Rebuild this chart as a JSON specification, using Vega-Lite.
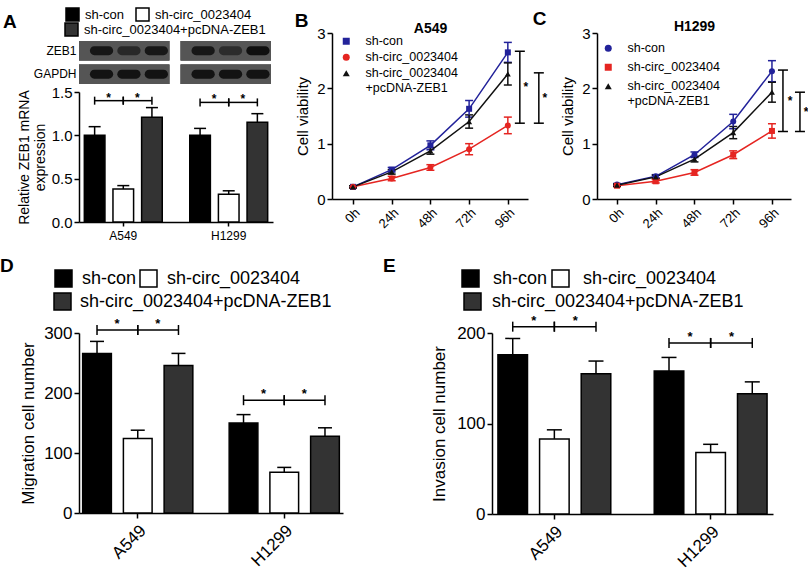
{
  "$schema": "https://vega.github.io/schema/vega-lite/v6.json",
  "background": "white",
  "padding": {"left": 0, "top": 7, "right": 0, "bottom": 0},
  "config": {
    "font": "Liberation Sans",
    "view": {"stroke": null},
    "axis": {"domainColor": "#000", "domainWidth": 1.5, "tickColor": "#000", "tickWidth": 1.5, "tickSize": 5, "labelColor": "#000", "titleColor": "#000", "grid": false, "labelFont": "Liberation Sans", "titleFont": "Liberation Sans", "titleFontWeight": "normal"},
    "legend": {"labelFont": "Liberation Sans", "labelColor": "#000", "titleFont": "Liberation Sans", "titleColor": "#000"},
    "title": {"font": "Liberation Sans", "color": "#000"}
  },
  "datasets": {
    "blot": [
      {"protein": "ZEB1", "cell": "A549", "lane": "sh-con", "intensity": 0.85},
      {"protein": "ZEB1", "cell": "A549", "lane": "sh-circ_0023404", "intensity": 0.6},
      {"protein": "ZEB1", "cell": "A549", "lane": "sh-circ_0023404+pcDNA-ZEB1", "intensity": 0.85},
      {"protein": "ZEB1", "cell": "H1299", "lane": "sh-con", "intensity": 0.85},
      {"protein": "ZEB1", "cell": "H1299", "lane": "sh-circ_0023404", "intensity": 0.55},
      {"protein": "ZEB1", "cell": "H1299", "lane": "sh-circ_0023404+pcDNA-ZEB1", "intensity": 0.95},
      {"protein": "GAPDH", "cell": "A549", "lane": "sh-con", "intensity": 0.9},
      {"protein": "GAPDH", "cell": "A549", "lane": "sh-circ_0023404", "intensity": 0.9},
      {"protein": "GAPDH", "cell": "A549", "lane": "sh-circ_0023404+pcDNA-ZEB1", "intensity": 0.9},
      {"protein": "GAPDH", "cell": "H1299", "lane": "sh-con", "intensity": 0.9},
      {"protein": "GAPDH", "cell": "H1299", "lane": "sh-circ_0023404", "intensity": 0.9},
      {"protein": "GAPDH", "cell": "H1299", "lane": "sh-circ_0023404+pcDNA-ZEB1", "intensity": 0.9}
    ],
    "barA": [
      {"cell": "A549", "group": "sh-con", "mean": 1.0, "upper": 1.1},
      {"cell": "A549", "group": "sh-circ_0023404", "mean": 0.38, "upper": 0.42},
      {"cell": "A549", "group": "sh-circ_0023404+pcDNA-ZEB1", "mean": 1.21, "upper": 1.32},
      {"cell": "H1299", "group": "sh-con", "mean": 1.0, "upper": 1.08},
      {"cell": "H1299", "group": "sh-circ_0023404", "mean": 0.32, "upper": 0.36},
      {"cell": "H1299", "group": "sh-circ_0023404+pcDNA-ZEB1", "mean": 1.15, "upper": 1.25}
    ],
    "sigA": [
      {"id": "a1", "cell": "A549", "group": "sh-con", "y": 1.4, "end": "start"},
      {"id": "a1", "cell": "A549", "group": "sh-circ_0023404", "y": 1.4, "end": "stop"},
      {"id": "a2", "cell": "A549", "group": "sh-circ_0023404", "y": 1.4, "end": "start"},
      {"id": "a2", "cell": "A549", "group": "sh-circ_0023404+pcDNA-ZEB1", "y": 1.4, "end": "stop"},
      {"id": "h1", "cell": "H1299", "group": "sh-con", "y": 1.38, "end": "start"},
      {"id": "h1", "cell": "H1299", "group": "sh-circ_0023404", "y": 1.38, "end": "stop"},
      {"id": "h2", "cell": "H1299", "group": "sh-circ_0023404", "y": 1.38, "end": "start"},
      {"id": "h2", "cell": "H1299", "group": "sh-circ_0023404+pcDNA-ZEB1", "y": 1.38, "end": "stop"}
    ],
    "lineB": [
      {"time": 0, "series": "sh-con", "mean": 0.22, "sd": 0.02},
      {"time": 24, "series": "sh-con", "mean": 0.53, "sd": 0.04},
      {"time": 48, "series": "sh-con", "mean": 0.97, "sd": 0.08},
      {"time": 72, "series": "sh-con", "mean": 1.63, "sd": 0.15},
      {"time": 96, "series": "sh-con", "mean": 2.65, "sd": 0.18},
      {"time": 0, "series": "sh-circ_0023404", "mean": 0.22, "sd": 0.02},
      {"time": 24, "series": "sh-circ_0023404", "mean": 0.37, "sd": 0.04},
      {"time": 48, "series": "sh-circ_0023404", "mean": 0.57, "sd": 0.05},
      {"time": 72, "series": "sh-circ_0023404", "mean": 0.9, "sd": 0.1},
      {"time": 96, "series": "sh-circ_0023404", "mean": 1.33, "sd": 0.15},
      {"time": 0, "series": "sh-circ_0023404+pcDNA-ZEB1", "mean": 0.22, "sd": 0.02},
      {"time": 24, "series": "sh-circ_0023404+pcDNA-ZEB1", "mean": 0.49, "sd": 0.04},
      {"time": 48, "series": "sh-circ_0023404+pcDNA-ZEB1", "mean": 0.87, "sd": 0.06},
      {"time": 72, "series": "sh-circ_0023404+pcDNA-ZEB1", "mean": 1.4, "sd": 0.12},
      {"time": 96, "series": "sh-circ_0023404+pcDNA-ZEB1", "mean": 2.26, "sd": 0.2}
    ],
    "sigB": [
      {"b": 1, "time": 96, "lo": 1.37, "hi": 2.67, "mid": 2.02, "label": "*"},
      {"b": 2, "time": 96, "lo": 1.37, "hi": 2.28, "mid": 1.83, "label": "*"}
    ],
    "lineC": [
      {"time": 0, "series": "sh-con", "mean": 0.26, "sd": 0.02},
      {"time": 24, "series": "sh-con", "mean": 0.41, "sd": 0.03},
      {"time": 48, "series": "sh-con", "mean": 0.8, "sd": 0.05},
      {"time": 72, "series": "sh-con", "mean": 1.4, "sd": 0.13},
      {"time": 96, "series": "sh-con", "mean": 2.31, "sd": 0.19},
      {"time": 0, "series": "sh-circ_0023404", "mean": 0.24, "sd": 0.02},
      {"time": 24, "series": "sh-circ_0023404", "mean": 0.32, "sd": 0.03},
      {"time": 48, "series": "sh-circ_0023404", "mean": 0.48, "sd": 0.05},
      {"time": 72, "series": "sh-circ_0023404", "mean": 0.8, "sd": 0.07},
      {"time": 96, "series": "sh-circ_0023404", "mean": 1.23, "sd": 0.13},
      {"time": 0, "series": "sh-circ_0023404+pcDNA-ZEB1", "mean": 0.25, "sd": 0.02},
      {"time": 24, "series": "sh-circ_0023404+pcDNA-ZEB1", "mean": 0.4, "sd": 0.03},
      {"time": 48, "series": "sh-circ_0023404+pcDNA-ZEB1", "mean": 0.72, "sd": 0.05},
      {"time": 72, "series": "sh-circ_0023404+pcDNA-ZEB1", "mean": 1.2, "sd": 0.11},
      {"time": 96, "series": "sh-circ_0023404+pcDNA-ZEB1", "mean": 1.93, "sd": 0.18}
    ],
    "sigC": [
      {"b": 1, "time": 96, "lo": 1.22, "hi": 2.33, "mid": 1.78, "label": "*"},
      {"b": 2, "time": 96, "lo": 1.22, "hi": 1.93, "mid": 1.58, "label": "*"}
    ],
    "barD": [
      {"cell": "A549", "group": "sh-con", "mean": 266, "upper": 286},
      {"cell": "A549", "group": "sh-circ_0023404", "mean": 124, "upper": 138},
      {"cell": "A549", "group": "sh-circ_0023404+pcDNA-ZEB1", "mean": 246, "upper": 266},
      {"cell": "H1299", "group": "sh-con", "mean": 150, "upper": 164},
      {"cell": "H1299", "group": "sh-circ_0023404", "mean": 68, "upper": 76},
      {"cell": "H1299", "group": "sh-circ_0023404+pcDNA-ZEB1", "mean": 128, "upper": 142}
    ],
    "sigD": [
      {"id": "a1", "cell": "A549", "group": "sh-con", "y": 305, "end": "start"},
      {"id": "a1", "cell": "A549", "group": "sh-circ_0023404", "y": 305, "end": "stop"},
      {"id": "a2", "cell": "A549", "group": "sh-circ_0023404", "y": 305, "end": "start"},
      {"id": "a2", "cell": "A549", "group": "sh-circ_0023404+pcDNA-ZEB1", "y": 305, "end": "stop"},
      {"id": "h1", "cell": "H1299", "group": "sh-con", "y": 188, "end": "start"},
      {"id": "h1", "cell": "H1299", "group": "sh-circ_0023404", "y": 188, "end": "stop"},
      {"id": "h2", "cell": "H1299", "group": "sh-circ_0023404", "y": 188, "end": "start"},
      {"id": "h2", "cell": "H1299", "group": "sh-circ_0023404+pcDNA-ZEB1", "y": 188, "end": "stop"}
    ],
    "barE": [
      {"cell": "A549", "group": "sh-con", "mean": 176, "upper": 194},
      {"cell": "A549", "group": "sh-circ_0023404", "mean": 83, "upper": 93},
      {"cell": "A549", "group": "sh-circ_0023404+pcDNA-ZEB1", "mean": 155, "upper": 169},
      {"cell": "H1299", "group": "sh-con", "mean": 158, "upper": 173},
      {"cell": "H1299", "group": "sh-circ_0023404", "mean": 68, "upper": 77},
      {"cell": "H1299", "group": "sh-circ_0023404+pcDNA-ZEB1", "mean": 133, "upper": 146}
    ],
    "sigE": [
      {"id": "a1", "cell": "A549", "group": "sh-con", "y": 207, "end": "start"},
      {"id": "a1", "cell": "A549", "group": "sh-circ_0023404", "y": 207, "end": "stop"},
      {"id": "a2", "cell": "A549", "group": "sh-circ_0023404", "y": 207, "end": "start"},
      {"id": "a2", "cell": "A549", "group": "sh-circ_0023404+pcDNA-ZEB1", "y": 207, "end": "stop"},
      {"id": "h1", "cell": "H1299", "group": "sh-con", "y": 189, "end": "start"},
      {"id": "h1", "cell": "H1299", "group": "sh-circ_0023404", "y": 189, "end": "stop"},
      {"id": "h2", "cell": "H1299", "group": "sh-circ_0023404", "y": 189, "end": "start"},
      {"id": "h2", "cell": "H1299", "group": "sh-circ_0023404+pcDNA-ZEB1", "y": 189, "end": "stop"}
    ]
  },
  "resolve": {"scale": {"x": "independent", "y": "independent", "xOffset": "independent", "color": "independent", "fill": "independent", "stroke": "independent", "shape": "independent"}, "legend": {"color": "independent", "fill": "independent", "stroke": "independent", "shape": "independent"}},
  "spacing": 28,
  "vconcat": [
    {
      "spacing": 21,
      "resolve": {"scale": {"x": "independent", "y": "independent", "xOffset": "independent", "color": "independent", "fill": "independent", "stroke": "independent", "shape": "independent"}, "legend": {"color": "independent", "fill": "independent", "stroke": "independent", "shape": "independent"}},
      "hconcat": [
        {
          "bounds": "flush",
          "spacing": 8,
          "resolve": {"scale": {"x": "independent", "y": "independent", "xOffset": "independent", "color": "independent", "fill": "independent", "stroke": "independent"}, "legend": {"color": "independent", "fill": "independent", "stroke": "independent"}},
          "vconcat": [
            {
              "width": 192,
              "height": 51,
              "data": {"name": "blot"},
              "layer": [
                {
                  "mark": {"type": "rect", "color": "#555555"},
                  "encoding": {
                    "x": {"field": "cell", "type": "nominal", "scale": {"paddingInner": 0.11, "paddingOuter": 0}, "axis": null},
                    "y": {"field": "protein", "type": "nominal", "sort": ["ZEB1", "GAPDH"], "scale": {"paddingInner": 0.17, "paddingOuter": 0.17, "align": 1}, "axis": {"title": null, "domain": false, "ticks": false, "labelFontSize": 12, "labelPadding": 3}}
                  }
                },
                {
                  "mark": {"type": "rect", "width": {"band": 0.85}, "height": {"band": 0.45}, "cornerRadius": 6},
                  "encoding": {
                    "x": {"field": "cell", "type": "nominal"},
                    "xOffset": {"field": "lane", "type": "nominal", "sort": ["sh-con", "sh-circ_0023404", "sh-circ_0023404+pcDNA-ZEB1"], "scale": {"paddingInner": 0, "paddingOuter": 0.15}},
                    "y": {"field": "protein", "type": "nominal", "sort": ["ZEB1", "GAPDH"]},
                    "color": {"field": "intensity", "type": "quantitative", "scale": {"domain": [0, 1], "range": ["#555555", "#0a0a0a"]}, "legend": null}
                  }
                }
              ]
            },
            {
              "width": 194,
              "height": 130,
              "layer": [
                {
                  "data": {"name": "barA"},
                  "mark": {"type": "rule", "color": "#000", "strokeWidth": 1.5},
                  "encoding": {
                    "x": {"field": "cell", "type": "nominal", "scale": {"paddingInner": 0.25, "paddingOuter": 0.045}, "axis": {"title": null, "labelAngle": 0, "labelFontSize": 12, "tickSize": 4, "labelPadding": 4}},
                    "xOffset": {"field": "group", "type": "nominal", "sort": ["sh-con", "sh-circ_0023404", "sh-circ_0023404+pcDNA-ZEB1"], "scale": {"paddingInner": 0.28, "paddingOuter": 0.02}},
                    "y": {"field": "mean", "type": "quantitative", "scale": {"domain": [0, 1.5], "nice": false}, "axis": {"values": [0, 0.5, 1, 1.5], "format": ".1f", "labelFontSize": 15, "title": ["Relative ZEB1 mRNA", "expression"], "titleFontSize": 14, "titlePadding": 4}},
                    "y2": {"field": "upper"}
                  }
                },
                {
                  "data": {"name": "barA"},
                  "mark": {"type": "tick", "color": "#000", "size": 12, "thickness": 1.5, "orient": "horizontal", "opacity": 1},
                  "encoding": {
                    "x": {"field": "cell", "type": "nominal"},
                    "xOffset": {"field": "group", "type": "nominal", "sort": ["sh-con", "sh-circ_0023404", "sh-circ_0023404+pcDNA-ZEB1"]},
                    "y": {"field": "upper", "type": "quantitative"}
                  }
                },
                {
                  "data": {"name": "barA"},
                  "mark": {"type": "bar", "stroke": "#000", "strokeWidth": 1.5},
                  "encoding": {
                    "x": {"field": "cell", "type": "nominal"},
                    "xOffset": {"field": "group", "type": "nominal", "sort": ["sh-con", "sh-circ_0023404", "sh-circ_0023404+pcDNA-ZEB1"]},
                    "y": {"field": "mean", "type": "quantitative"},
                    "fill": {"field": "group", "type": "nominal", "scale": {"domain": ["sh-con", "sh-circ_0023404", "sh-circ_0023404+pcDNA-ZEB1"], "range": ["#000000", "#ffffff", "#333333"]},
                      "legend": {"values": ["sh-con", "sh-circ_0023404"], "orient": "none", "legendX": -76, "legendY": -85, "direction": "horizontal", "title": "A", "titleOrient": "left", "titleAnchor": "start", "titleFontSize": 19, "titleFontWeight": "bold", "titleBaseline": "top", "titlePadding": 48, "symbolType": "square", "symbolSize": 169, "symbolStrokeColor": "#000", "symbolStrokeWidth": 1.5, "labelFontSize": 13, "labelOffset": 5, "columnPadding": 8, "padding": 0, "labelLimit": 400,
                        "encode": {"title": {"update": {"dy": {"value": 6}}}}}},
                    "stroke": {"field": "group", "type": "nominal", "scale": {"domain": ["sh-circ_0023404+pcDNA-ZEB1", "sh-con", "sh-circ_0023404"], "range": ["#000000", "#000000", "#000000"]},
                      "legend": {"values": ["sh-circ_0023404+pcDNA-ZEB1"], "orient": "none", "legendX": -15, "legendY": -70, "title": null, "symbolType": "square", "symbolSize": 169, "symbolFillColor": "#333333", "symbolStrokeColor": "#000", "symbolStrokeWidth": 1.5, "labelFontSize": 13, "labelOffset": 5, "padding": 0, "labelLimit": 400}}
                  }
                },
                {
                  "data": {"name": "sigA"},
                  "mark": {"type": "line", "color": "#000", "strokeWidth": 1.5},
                  "encoding": {
                    "x": {"field": "cell", "type": "nominal"},
                    "xOffset": {"field": "group", "type": "nominal", "sort": ["sh-con", "sh-circ_0023404", "sh-circ_0023404+pcDNA-ZEB1"]},
                    "y": {"field": "y", "type": "quantitative"},
                    "detail": {"field": "id"}
                  }
                },
                {
                  "data": {"name": "sigA"},
                  "mark": {"type": "tick", "color": "#000", "size": 8, "thickness": 1.5, "orient": "vertical", "opacity": 1},
                  "encoding": {
                    "x": {"field": "cell", "type": "nominal"},
                    "xOffset": {"field": "group", "type": "nominal", "sort": ["sh-con", "sh-circ_0023404", "sh-circ_0023404+pcDNA-ZEB1"]},
                    "y": {"field": "y", "type": "quantitative"}
                  }
                },
                {
                  "data": {"name": "sigA"},
                  "transform": [{"filter": "datum.end == 'start'"}],
                  "mark": {"type": "text", "text": "*", "fontSize": 12, "fontWeight": "bold", "dx": 14, "dy": -3, "baseline": "middle"},
                  "encoding": {
                    "x": {"field": "cell", "type": "nominal"},
                    "xOffset": {"field": "group", "type": "nominal", "sort": ["sh-con", "sh-circ_0023404", "sh-circ_0023404+pcDNA-ZEB1"]},
                    "y": {"field": "y", "type": "quantitative"}
                  }
                }
              ]
            }
          ]
        },
        {
          "bounds": "flush",
          "spacing": 69,
          "resolve": {"scale": {"x": "independent", "y": "independent", "color": "independent", "shape": "independent"}, "legend": {"color": "independent", "shape": "independent"}},
          "hconcat": [
            {
              "width": 196,
              "height": 166,
              "title": {"text": "B", "anchor": "start", "frame": "bounds", "fontSize": 19, "fontWeight": "bold", "offset": 0, "baseline": "alphabetic", "dx": -1, "dy": 25},
              "resolve": {"axis": {"x": "independent"}},
              "layer": [
                {
                  "data": {"name": "lineB"},
                  "mark": {"type": "errorbar", "opacity": 1, "ticks": {"size": 8, "thickness": 1.5, "opacity": 1}, "rule": {"strokeWidth": 1.5, "opacity": 1}},
                  "encoding": {
                    "x": {"field": "time", "type": "quantitative", "scale": {"domain": [-13, 108.5], "nice": false, "zero": false}, "axis": {"orient": "bottom", "values": [0, 24, 48, 72, 96], "labelExpr": "datum.value + 'h'", "labelAngle": -45, "labelFontSize": 13, "title": null}},
                    "y": {"field": "mean", "type": "quantitative", "title": "Cell viability", "scale": {"domain": [0, 3], "nice": false}, "axis": {"values": [0, 1, 2, 3], "format": "d", "labelFontSize": 15, "title": "Cell viability", "titleFontSize": 15, "titlePadding": 6}},
                    "yError": {"field": "sd"},
                    "color": {"field": "series", "type": "nominal", "scale": {"domain": ["sh-con", "sh-circ_0023404", "sh-circ_0023404+pcDNA-ZEB1"], "range": ["#22229a", "#e52521", "#111111"]}}
                  }
                },
                {
                  "data": {"name": "lineB"},
                  "mark": {"type": "line", "strokeWidth": 1.5, "opacity": 1},
                  "encoding": {
                    "x": {"field": "time", "type": "quantitative", "axis": null},
                    "y": {"field": "mean", "type": "quantitative", "title": "Cell viability"},
                    "color": {"field": "series", "type": "nominal"}
                  }
                },
                {
                  "data": {"name": "lineB"},
                  "mark": {"type": "point", "filled": true, "size": 36, "opacity": 1},
                  "encoding": {
                    "x": {"field": "time", "type": "quantitative", "axis": null},
                    "y": {"field": "mean", "type": "quantitative", "title": "Cell viability"},
                    "color": {"field": "series", "type": "nominal"},
                    "shape": {"field": "series", "type": "nominal", "scale": {"domain": ["sh-con", "sh-circ_0023404", "sh-circ_0023404+pcDNA-ZEB1"], "range": ["square", "circle", "triangle-up"]},
                      "legend": {"orient": "none", "legendX": 8, "legendY": 2, "title": null, "symbolSize": 49, "symbolOpacity": 1, "symbolStrokeWidth": 0, "labelFontSize": 12.5, "labelOffset": 13, "rowPadding": 3, "padding": 0, "labelLimit": 300,
                        "labelExpr": "datum.label == 'sh-circ_0023404+pcDNA-ZEB1' ? ['sh-circ_0023404', '+pcDNA-ZEB1'] : datum.label"}
                    }
                  }
                },
                {
                  "data": {"name": "sigB"},
                  "transform": [{"filter": "datum.b == 1"}],
                  "mark": {"type": "errorbar", "ticks": {"size": 10, "thickness": 1.5, "xOffset": 12, "color": "#000", "opacity": 1}, "rule": {"strokeWidth": 1.5, "xOffset": 12, "color": "#000"}},
                  "encoding": {"x": {"field": "time", "type": "quantitative", "axis": null}, "y": {"field": "lo", "type": "quantitative", "title": "Cell viability"}, "y2": {"field": "hi"}}
                },
                {
                  "data": {"name": "sigB"},
                  "transform": [{"filter": "datum.b == 2"}],
                  "mark": {"type": "errorbar", "ticks": {"size": 10, "thickness": 1.5, "xOffset": 31, "color": "#000", "opacity": 1}, "rule": {"strokeWidth": 1.5, "xOffset": 31, "color": "#000"}},
                  "encoding": {"x": {"field": "time", "type": "quantitative", "axis": null}, "y": {"field": "lo", "type": "quantitative", "title": "Cell viability"}, "y2": {"field": "hi"}}
                },
                {
                  "data": {"name": "sigB"},
                  "transform": [{"filter": "datum.b == 1"}],
                  "mark": {"type": "text", "fontSize": 12, "fontWeight": "bold", "xOffset": 18, "baseline": "middle"},
                  "encoding": {"x": {"field": "time", "type": "quantitative", "axis": {"orient": "top", "title": "A549", "titleFontSize": 14, "titleFontWeight": "bold", "titlePadding": 1, "titleBaseline": "alphabetic", "labels": false, "ticks": false, "domain": false}}, "y": {"field": "mid", "type": "quantitative", "title": "Cell viability"}, "text": {"field": "label"}}
                },
                {
                  "data": {"name": "sigB"},
                  "transform": [{"filter": "datum.b == 2"}],
                  "mark": {"type": "text", "fontSize": 12, "fontWeight": "bold", "xOffset": 37, "baseline": "middle"},
                  "encoding": {"x": {"field": "time", "type": "quantitative", "axis": null}, "y": {"field": "mid", "type": "quantitative", "title": "Cell viability"}, "text": {"field": "label"}}
                }
              ]
            },
            {
              "width": 194,
              "height": 166,
              "title": {"text": "C", "anchor": "start", "frame": "bounds", "fontSize": 19, "fontWeight": "bold", "offset": 0, "baseline": "alphabetic", "dx": -28, "dy": 25},
              "resolve": {"axis": {"x": "independent"}},
              "layer": [
                {
                  "data": {"name": "lineC"},
                  "mark": {"type": "errorbar", "opacity": 1, "ticks": {"size": 8, "thickness": 1.5, "opacity": 1}, "rule": {"strokeWidth": 1.5, "opacity": 1}},
                  "encoding": {
                    "x": {"field": "time", "type": "quantitative", "scale": {"domain": [-12.4, 107.8], "nice": false, "zero": false}, "axis": {"orient": "bottom", "values": [0, 24, 48, 72, 96], "labelExpr": "datum.value + 'h'", "labelAngle": -45, "labelFontSize": 13, "title": null}},
                    "y": {"field": "mean", "type": "quantitative", "title": "Cell viability", "scale": {"domain": [0, 3], "nice": false}, "axis": {"values": [0, 1, 2, 3], "format": "d", "labelFontSize": 15, "title": "Cell viability", "titleFontSize": 15, "titlePadding": 6}},
                    "yError": {"field": "sd"},
                    "color": {"field": "series", "type": "nominal", "scale": {"domain": ["sh-con", "sh-circ_0023404", "sh-circ_0023404+pcDNA-ZEB1"], "range": ["#22229a", "#e52521", "#111111"]}}
                  }
                },
                {
                  "data": {"name": "lineC"},
                  "mark": {"type": "line", "strokeWidth": 1.5, "opacity": 1},
                  "encoding": {
                    "x": {"field": "time", "type": "quantitative", "axis": null},
                    "y": {"field": "mean", "type": "quantitative", "title": "Cell viability"},
                    "color": {"field": "series", "type": "nominal"}
                  }
                },
                {
                  "data": {"name": "lineC"},
                  "mark": {"type": "point", "filled": true, "size": 36, "opacity": 1},
                  "encoding": {
                    "x": {"field": "time", "type": "quantitative", "axis": null},
                    "y": {"field": "mean", "type": "quantitative", "title": "Cell viability"},
                    "color": {"field": "series", "type": "nominal"},
                    "shape": {"field": "series", "type": "nominal", "scale": {"domain": ["sh-con", "sh-circ_0023404", "sh-circ_0023404+pcDNA-ZEB1"], "range": ["circle", "square", "triangle-up"]},
                      "legend": {"orient": "none", "legendX": 5, "legendY": 9, "title": null, "symbolSize": 49, "symbolOpacity": 1, "symbolStrokeWidth": 0, "labelFontSize": 12.5, "labelOffset": 13, "rowPadding": 6, "padding": 0, "labelLimit": 300,
                        "labelExpr": "datum.label == 'sh-circ_0023404+pcDNA-ZEB1' ? ['sh-circ_0023404', '+pcDNA-ZEB1'] : datum.label"}
                    }
                  }
                },
                {
                  "data": {"name": "sigC"},
                  "transform": [{"filter": "datum.b == 1"}],
                  "mark": {"type": "errorbar", "ticks": {"size": 10, "thickness": 1.5, "xOffset": 11, "color": "#000", "opacity": 1}, "rule": {"strokeWidth": 1.5, "xOffset": 11, "color": "#000"}},
                  "encoding": {"x": {"field": "time", "type": "quantitative", "axis": null}, "y": {"field": "lo", "type": "quantitative", "title": "Cell viability"}, "y2": {"field": "hi"}}
                },
                {
                  "data": {"name": "sigC"},
                  "transform": [{"filter": "datum.b == 2"}],
                  "mark": {"type": "errorbar", "ticks": {"size": 10, "thickness": 1.5, "xOffset": 28, "color": "#000", "opacity": 1}, "rule": {"strokeWidth": 1.5, "xOffset": 28, "color": "#000"}},
                  "encoding": {"x": {"field": "time", "type": "quantitative", "axis": null}, "y": {"field": "lo", "type": "quantitative", "title": "Cell viability"}, "y2": {"field": "hi"}}
                },
                {
                  "data": {"name": "sigC"},
                  "transform": [{"filter": "datum.b == 1"}],
                  "mark": {"type": "text", "fontSize": 12, "fontWeight": "bold", "xOffset": 18, "baseline": "middle"},
                  "encoding": {"x": {"field": "time", "type": "quantitative", "axis": {"orient": "top", "title": "H1299", "titleFontSize": 14, "titleFontWeight": "bold", "titlePadding": 3, "titleBaseline": "alphabetic", "labels": false, "ticks": false, "domain": false}}, "y": {"field": "mid", "type": "quantitative", "title": "Cell viability"}, "text": {"field": "label"}}
                },
                {
                  "data": {"name": "sigC"},
                  "transform": [{"filter": "datum.b == 2"}],
                  "mark": {"type": "text", "fontSize": 12, "fontWeight": "bold", "xOffset": 34, "baseline": "middle"},
                  "encoding": {"x": {"field": "time", "type": "quantitative", "axis": null}, "y": {"field": "mid", "type": "quantitative", "title": "Cell viability"}, "text": {"field": "label"}}
                }
              ]
            }
          ]
        }
      ]
    },
    {
      "bounds": "flush",
      "spacing": 149,
      "resolve": {"scale": {"x": "independent", "y": "independent", "xOffset": "independent", "fill": "independent", "stroke": "independent"}, "legend": {"fill": "independent", "stroke": "independent"}},
      "hconcat": [
        {
          "width": 264,
          "height": 180,
          "layer": [
            {
              "data": {"name": "barD"},
              "mark": {"type": "rule", "color": "#000", "strokeWidth": 1.5},
              "encoding": {
                "x": {"field": "cell", "type": "nominal", "scale": {"paddingInner": 0.248, "paddingOuter": 0.025}, "axis": {"title": null, "labelAngle": -45, "labelFontSize": 17, "tickSize": 5, "labelPadding": 4}},
                "xOffset": {"field": "group", "type": "nominal", "sort": ["sh-con", "sh-circ_0023404", "sh-circ_0023404+pcDNA-ZEB1"], "scale": {"paddingInner": 0.295, "paddingOuter": 0}},
                "y": {"field": "mean", "type": "quantitative", "scale": {"domain": [0, 300], "nice": false}, "axis": {"values": [0, 100, 200, 300], "labelFontSize": 17, "title": "Migration cell number", "titleFontSize": 17, "titlePadding": 6}},
                "y2": {"field": "upper"}
              }
            },
            {
              "data": {"name": "barD"},
              "mark": {"type": "tick", "color": "#000", "size": 14, "thickness": 1.5, "orient": "horizontal", "opacity": 1},
              "encoding": {
                "x": {"field": "cell", "type": "nominal"},
                "xOffset": {"field": "group", "type": "nominal", "sort": ["sh-con", "sh-circ_0023404", "sh-circ_0023404+pcDNA-ZEB1"]},
                "y": {"field": "upper", "type": "quantitative"}
              }
            },
            {
              "data": {"name": "barD"},
              "mark": {"type": "bar", "stroke": "#000", "strokeWidth": 1.5},
              "encoding": {
                "x": {"field": "cell", "type": "nominal"},
                "xOffset": {"field": "group", "type": "nominal", "sort": ["sh-con", "sh-circ_0023404", "sh-circ_0023404+pcDNA-ZEB1"]},
                "y": {"field": "mean", "type": "quantitative"},
                "fill": {"field": "group", "type": "nominal", "scale": {"domain": ["sh-con", "sh-circ_0023404", "sh-circ_0023404+pcDNA-ZEB1"], "range": ["#000000", "#ffffff", "#333333"]},
                  "legend": {"values": ["sh-con", "sh-circ_0023404"], "orient": "none", "legendX": -79, "legendY": -64, "direction": "horizontal", "title": "D", "titleOrient": "left", "titleAnchor": "start", "titleFontSize": 19, "titleFontWeight": "bold", "titleBaseline": "middle", "titlePadding": 40, "symbolType": "square", "symbolSize": 289, "symbolStrokeColor": "#000", "symbolStrokeWidth": 1.5, "labelFontSize": 18, "labelOffset": 9, "columnPadding": 0, "padding": 0, "labelLimit": 400,
                    "encode": {"title": {"update": {"dy": {"value": -3}}}}}},
                "stroke": {"field": "group", "type": "nominal", "scale": {"domain": ["sh-circ_0023404+pcDNA-ZEB1", "sh-con", "sh-circ_0023404"], "range": ["#000000", "#000000", "#000000"]},
                  "legend": {"values": ["sh-circ_0023404+pcDNA-ZEB1"], "orient": "none", "legendX": -26, "legendY": -41, "title": null, "symbolType": "square", "symbolSize": 289, "symbolFillColor": "#333333", "symbolStrokeColor": "#000", "symbolStrokeWidth": 1.5, "labelFontSize": 18, "labelOffset": 8, "padding": 0, "labelLimit": 400}}
              }
            },
            {
              "data": {"name": "sigD"},
              "mark": {"type": "line", "color": "#000", "strokeWidth": 1.5},
              "encoding": {
                "x": {"field": "cell", "type": "nominal"},
                "xOffset": {"field": "group", "type": "nominal", "sort": ["sh-con", "sh-circ_0023404", "sh-circ_0023404+pcDNA-ZEB1"]},
                "y": {"field": "y", "type": "quantitative"},
                "detail": {"field": "id"}
              }
            },
            {
              "data": {"name": "sigD"},
              "mark": {"type": "tick", "color": "#000", "size": 10, "thickness": 1.5, "orient": "vertical", "opacity": 1},
              "encoding": {
                "x": {"field": "cell", "type": "nominal"},
                "xOffset": {"field": "group", "type": "nominal", "sort": ["sh-con", "sh-circ_0023404", "sh-circ_0023404+pcDNA-ZEB1"]},
                "y": {"field": "y", "type": "quantitative"}
              }
            },
            {
              "data": {"name": "sigD"},
              "transform": [{"filter": "datum.end == 'start'"}],
              "mark": {"type": "text", "text": "*", "fontSize": 13, "fontWeight": "bold", "dx": 20, "dy": -6, "baseline": "middle"},
              "encoding": {
                "x": {"field": "cell", "type": "nominal"},
                "xOffset": {"field": "group", "type": "nominal", "sort": ["sh-con", "sh-circ_0023404", "sh-circ_0023404+pcDNA-ZEB1"]},
                "y": {"field": "y", "type": "quantitative"}
              }
            }
          ]
        },
        {
          "width": 281,
          "height": 181,
          "layer": [
            {
              "data": {"name": "barE"},
              "mark": {"type": "rule", "color": "#000", "strokeWidth": 1.5},
              "encoding": {
                "x": {"field": "cell", "type": "nominal", "scale": {"paddingInner": 0.278, "paddingOuter": 0.038}, "axis": {"title": null, "labelAngle": -45, "labelFontSize": 17, "tickSize": 5, "labelPadding": 4}},
                "xOffset": {"field": "group", "type": "nominal", "sort": ["sh-con", "sh-circ_0023404", "sh-circ_0023404+pcDNA-ZEB1"], "scale": {"paddingInner": 0.29, "paddingOuter": 0}},
                "y": {"field": "mean", "type": "quantitative", "scale": {"domain": [0, 200], "nice": false}, "axis": {"values": [0, 100, 200], "labelFontSize": 17, "title": "Invasion cell number", "titleFontSize": 17, "titlePadding": 8}},
                "y2": {"field": "upper"}
              }
            },
            {
              "data": {"name": "barE"},
              "mark": {"type": "tick", "color": "#000", "size": 15, "thickness": 1.5, "orient": "horizontal", "opacity": 1},
              "encoding": {
                "x": {"field": "cell", "type": "nominal"},
                "xOffset": {"field": "group", "type": "nominal", "sort": ["sh-con", "sh-circ_0023404", "sh-circ_0023404+pcDNA-ZEB1"]},
                "y": {"field": "upper", "type": "quantitative"}
              }
            },
            {
              "data": {"name": "barE"},
              "mark": {"type": "bar", "stroke": "#000", "strokeWidth": 1.5},
              "encoding": {
                "x": {"field": "cell", "type": "nominal"},
                "xOffset": {"field": "group", "type": "nominal", "sort": ["sh-con", "sh-circ_0023404", "sh-circ_0023404+pcDNA-ZEB1"]},
                "y": {"field": "mean", "type": "quantitative"},
                "fill": {"field": "group", "type": "nominal", "scale": {"domain": ["sh-con", "sh-circ_0023404", "sh-circ_0023404+pcDNA-ZEB1"], "range": ["#000000", "#ffffff", "#333333"]},
                  "legend": {"values": ["sh-con", "sh-circ_0023404"], "orient": "none", "legendX": -109, "legendY": -64, "direction": "horizontal", "title": "E", "titleOrient": "left", "titleAnchor": "start", "titleFontSize": 19, "titleFontWeight": "bold", "titleBaseline": "middle", "titlePadding": 65, "symbolType": "square", "symbolSize": 289, "symbolStrokeColor": "#000", "symbolStrokeWidth": 1.5, "labelFontSize": 18, "labelOffset": 13, "columnPadding": 1, "padding": 0, "labelLimit": 400,
                    "encode": {"title": {"update": {"dy": {"value": -3}}}}}},
                "stroke": {"field": "group", "type": "nominal", "scale": {"domain": ["sh-circ_0023404+pcDNA-ZEB1", "sh-con", "sh-circ_0023404"], "range": ["#000000", "#000000", "#000000"]},
                  "legend": {"values": ["sh-circ_0023404+pcDNA-ZEB1"], "orient": "none", "legendX": -29, "legendY": -41, "title": null, "symbolType": "square", "symbolSize": 289, "symbolFillColor": "#333333", "symbolStrokeColor": "#000", "symbolStrokeWidth": 1.5, "labelFontSize": 18, "labelOffset": 10, "padding": 0, "labelLimit": 400}}
              }
            },
            {
              "data": {"name": "sigE"},
              "mark": {"type": "line", "color": "#000", "strokeWidth": 1.5},
              "encoding": {
                "x": {"field": "cell", "type": "nominal"},
                "xOffset": {"field": "group", "type": "nominal", "sort": ["sh-con", "sh-circ_0023404", "sh-circ_0023404+pcDNA-ZEB1"]},
                "y": {"field": "y", "type": "quantitative"},
                "detail": {"field": "id"}
              }
            },
            {
              "data": {"name": "sigE"},
              "mark": {"type": "tick", "color": "#000", "size": 10, "thickness": 1.5, "orient": "vertical", "opacity": 1},
              "encoding": {
                "x": {"field": "cell", "type": "nominal"},
                "xOffset": {"field": "group", "type": "nominal", "sort": ["sh-con", "sh-circ_0023404", "sh-circ_0023404+pcDNA-ZEB1"]},
                "y": {"field": "y", "type": "quantitative"}
              }
            },
            {
              "data": {"name": "sigE"},
              "transform": [{"filter": "datum.end == 'start'"}],
              "mark": {"type": "text", "text": "*", "fontSize": 13, "fontWeight": "bold", "dx": 21, "dy": -6, "baseline": "middle"},
              "encoding": {
                "x": {"field": "cell", "type": "nominal"},
                "xOffset": {"field": "group", "type": "nominal", "sort": ["sh-con", "sh-circ_0023404", "sh-circ_0023404+pcDNA-ZEB1"]},
                "y": {"field": "y", "type": "quantitative"}
              }
            }
          ]
        }
      ]
    }
  ]
}
